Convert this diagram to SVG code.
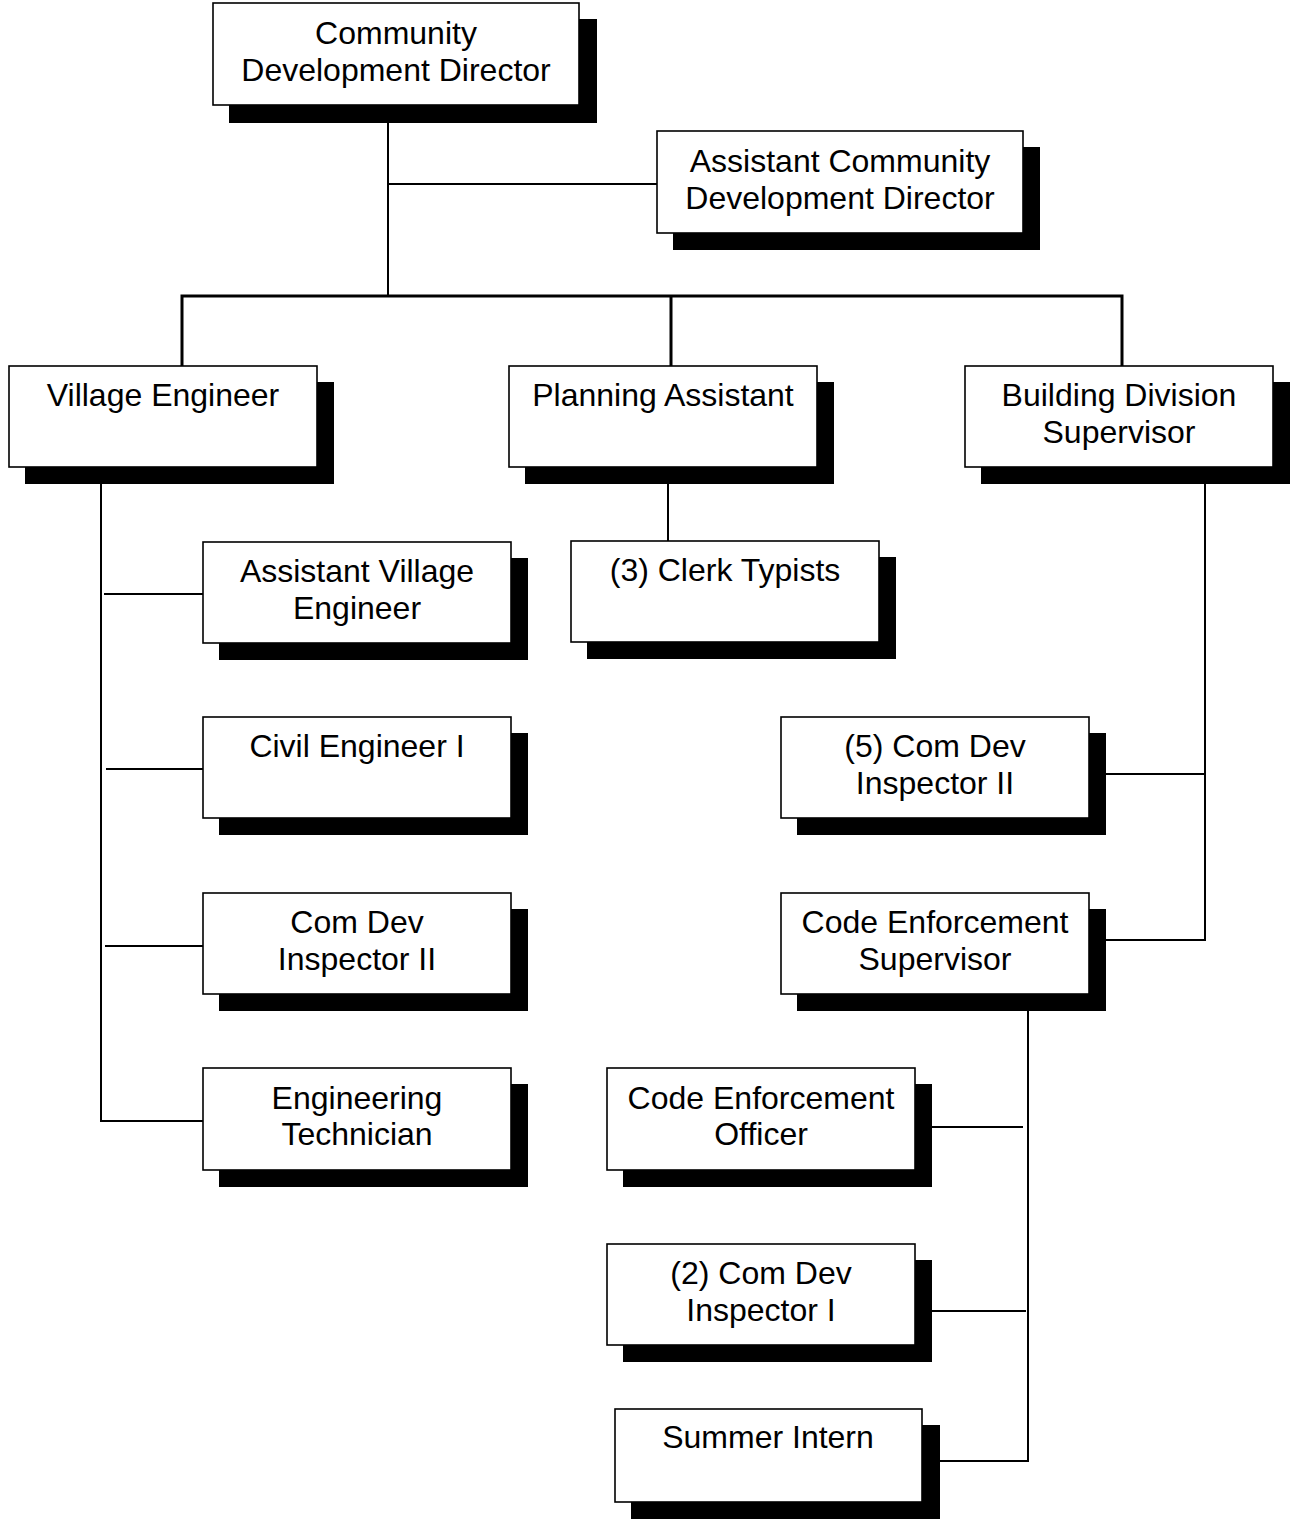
<svg xmlns="http://www.w3.org/2000/svg" width="1293" height="1519" viewBox="0 0 1293 1519">
  <style>
    .shadow { fill: #000; }
    .box { fill: #fff; stroke: #000; stroke-width: 1.6; }
    .label { font-family: "Liberation Sans", Arial, sans-serif; font-size: 32px; fill: #000; text-anchor: middle; }
    .conn { fill: none; stroke: #000; stroke-width: 2; }
    .thick { stroke-width: 3; }
  </style>
  <rect width="1293" height="1519" fill="#fff"/>

  <!-- reporting lines -->
  <g id="connectors">
    <path class="conn" d="M388,105 V296 M388,184 H657"/>
    <path class="conn thick" d="M182,366 V296 H1122 V366 M671,296 V366"/>
    <path class="conn" d="M101,484 V1121 H203 M104,594 H203 M106,769 H203 M105,946 H203"/>
    <path class="conn" d="M668,484 V541"/>
    <path class="conn" d="M1205,484 V940 H1106 M1106,774 H1205"/>
    <path class="conn" d="M1028,1011 V1461 H940 M932,1127 H1023 M932,1311 H1026"/>
  </g>

  <g id="community-development-director">
    <rect class="shadow" x="229" y="19" width="368" height="104"/>
    <rect class="box" x="213" y="3" width="366" height="102"/>
    <text class="label" x="396" y="44">Community</text>
    <text class="label" x="396" y="81">Development Director</text>
  </g>

  <g id="assistant-community-development-director">
    <rect class="shadow" x="673" y="147" width="367" height="103"/>
    <rect class="box" x="657" y="131" width="366" height="102"/>
    <text class="label" x="840" y="172">Assistant Community</text>
    <text class="label" x="840" y="209">Development Director</text>
  </g>

  <g id="village-engineer">
    <rect class="shadow" x="25" y="382" width="309" height="102"/>
    <rect class="box" x="9" y="366" width="308" height="101"/>
    <text class="label" x="163" y="406">Village Engineer</text>
  </g>

  <g id="planning-assistant">
    <rect class="shadow" x="525" y="382" width="309" height="102"/>
    <rect class="box" x="509" y="366" width="308" height="101"/>
    <text class="label" x="663" y="406">Planning Assistant</text>
  </g>

  <g id="building-division-supervisor">
    <rect class="shadow" x="981" y="382" width="309" height="102"/>
    <rect class="box" x="965" y="366" width="308" height="101"/>
    <text class="label" x="1119" y="406">Building Division</text>
    <text class="label" x="1119" y="443">Supervisor</text>
  </g>

  <g id="assistant-village-engineer">
    <rect class="shadow" x="219" y="558" width="309" height="102"/>
    <rect class="box" x="203" y="542" width="308" height="101"/>
    <text class="label" x="357" y="582">Assistant Village</text>
    <text class="label" x="357" y="619">Engineer</text>
  </g>

  <g id="clerk-typists">
    <rect class="shadow" x="587" y="557" width="309" height="102"/>
    <rect class="box" x="571" y="541" width="308" height="101"/>
    <text class="label" x="725" y="581">(3) Clerk Typists</text>
  </g>

  <g id="civil-engineer-i">
    <rect class="shadow" x="219" y="733" width="309" height="102"/>
    <rect class="box" x="203" y="717" width="308" height="101"/>
    <text class="label" x="357" y="757">Civil Engineer I</text>
  </g>

  <g id="com-dev-inspector-ii">
    <rect class="shadow" x="219" y="909" width="309" height="102"/>
    <rect class="box" x="203" y="893" width="308" height="101"/>
    <text class="label" x="357" y="933">Com Dev</text>
    <text class="label" x="357" y="970">Inspector II</text>
  </g>

  <g id="engineering-technician">
    <rect class="shadow" x="219" y="1084" width="309" height="103"/>
    <rect class="box" x="203" y="1068" width="308" height="102"/>
    <text class="label" x="357" y="1109">Engineering</text>
    <text class="label" x="357" y="1145">Technician</text>
  </g>

  <g id="com-dev-inspector-ii-5">
    <rect class="shadow" x="797" y="733" width="309" height="102"/>
    <rect class="box" x="781" y="717" width="308" height="101"/>
    <text class="label" x="935" y="757">(5) Com Dev</text>
    <text class="label" x="935" y="794">Inspector II</text>
  </g>

  <g id="code-enforcement-supervisor">
    <rect class="shadow" x="797" y="909" width="309" height="102"/>
    <rect class="box" x="781" y="893" width="308" height="101"/>
    <text class="label" x="935" y="933">Code Enforcement</text>
    <text class="label" x="935" y="970">Supervisor</text>
  </g>

  <g id="code-enforcement-officer">
    <rect class="shadow" x="623" y="1084" width="309" height="103"/>
    <rect class="box" x="607" y="1068" width="308" height="102"/>
    <text class="label" x="761" y="1109">Code Enforcement</text>
    <text class="label" x="761" y="1145">Officer</text>
  </g>

  <g id="com-dev-inspector-i-2">
    <rect class="shadow" x="623" y="1260" width="309" height="102"/>
    <rect class="box" x="607" y="1244" width="308" height="101"/>
    <text class="label" x="761" y="1284">(2) Com Dev</text>
    <text class="label" x="761" y="1321">Inspector I</text>
  </g>

  <g id="summer-intern">
    <rect class="shadow" x="631" y="1425" width="309" height="94"/>
    <rect class="box" x="615" y="1409" width="307" height="93"/>
    <text class="label" x="768" y="1448">Summer Intern</text>
  </g>
</svg>
